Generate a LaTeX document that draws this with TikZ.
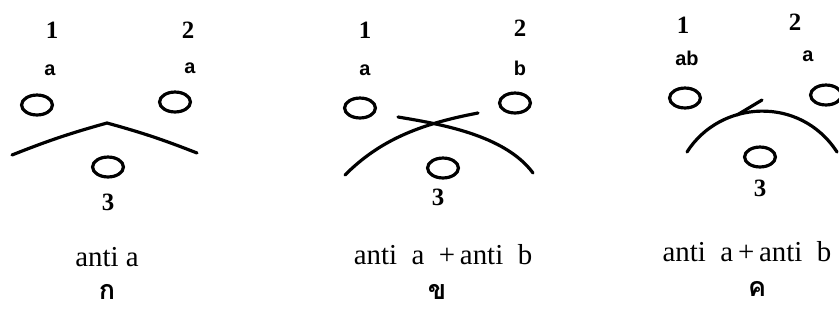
\documentclass[tikz,border=0pt]{standalone}
\usepackage{fontspec}
\setmainfont{Liberation Serif}
\newfontfamily\labelfont{Liberation Sans}
\newfontfamily\thaifont[Script=Thai]{Loma}
\usetikzlibrary{shapes.geometric}

\begin{document}
\begin{tikzpicture}[x=1bp, y=-1bp,
    well/.style={ellipse, draw, line width=3.2pt, minimum width=31pt, minimum height=20pt, inner sep=0pt},
    wellnum/.style={font=\fontsize{25}{28}\selectfont\bfseries},
    cellname/.style={font=\labelfont\bfseries\fontsize{20}{22}\selectfont},
    result/.style={font=\fontsize{29}{32}\selectfont},
    panel/.style={font=\thaifont\bfseries\fontsize{27}{29}\selectfont},
    line/.style={line width=3.2pt, line cap=round}]
    \useasboundingbox (0,0) rectangle (839,327);

    % ก : anti a
    \node[wellnum] (k1) at (52,30) {1};
    \node[wellnum] (k2) at (188,30) {2};
    \node[cellname] (ka) at (50,70) {a};
    \node[cellname] (kb) at (190,68) {a};
    \node[well] (kw1) at (37,105) {};
    \node[well] (kw2) at (175,102) {};
    \node[well] (kw3) at (108,167) {};
    \node[wellnum] (k3) at (108,202) {3};
    \draw[line] (12,155) to[bend left=3] (107,123) to[bend left=3] (197,153);
    \node[result] (kr) at (107,257) {anti a};
    \node[panel] (kp) at (107,292) {ก};

    % ข : anti a + anti b
    \node[wellnum] (x1) at (365,30) {1};
    \node[wellnum] (x2) at (520,28) {2};
    \node[cellname] (xa) at (365,70) {a};
    \node[cellname] (xb) at (520,68) {b};
    \node[well] (xw1) at (360,108) {};
    \node[well] (xw2) at (515,103) {};
    \node[well] (xw3) at (443,168) {};
    \node[wellnum] (x3) at (438,197) {3};
    \draw[line] (345,175) .. controls (380,140) and (420,124) .. (478,113);
    \draw[line] (398,117) .. controls (440,124) and (505,135) .. (533,173);
    \node[result] (xr) at (443,255) {anti\ \ a\ \ +\,anti\ \ b};
    \node[panel] (xp) at (437,292) {ข};

    % ค : anti a + anti b
    \node[wellnum] (c1) at (683,25) {1};
    \node[wellnum] (c2) at (795,22) {2};
    \node[cellname] (ca) at (687,58) {ab};
    \node[cellname] (cb) at (808,56) {a};
    \node[well] (cw1) at (685,98) {};
    \node[well] (cw2) at (826,95) {};
    \node[well] (cw3) at (760,157) {};
    \node[wellnum] (c3) at (760,188) {3};
    \draw[line] (687,152) .. controls (720,100) and (800,95) .. (837,152);
    \draw[line] (737,115) -- (762,100);
    \node[result] (cr) at (747,252) {anti\ \ a\,+\,anti\ \ b};
    \node[panel] (cp) at (757,289) {ค};
\end{tikzpicture}
\end{document}
